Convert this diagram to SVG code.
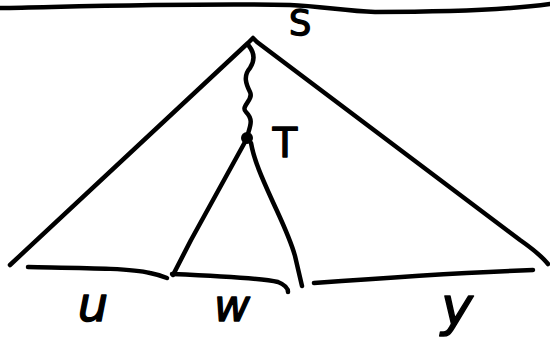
<svg xmlns="http://www.w3.org/2000/svg" width="550" height="337" viewBox="0 0 550 337">
<style>
.s{fill:none;stroke:#000;stroke-width:4.5;stroke-linecap:round;stroke-linejoin:round}
.t{font-family:"DejaVu Sans","Liberation Sans",sans-serif;fill:#000;stroke:#000;stroke-width:1.4;stroke-linejoin:round;text-anchor:middle}
</style>
<rect width="550" height="337" fill="#fff"/>
<g id="top">
<path class="s" d="M0,8 C100,6 200,3 290,5 C320,6 345,11 375,12 C440,12 500,11 550,4"/>
<text class="t" x="300" y="35" font-size="35">S</text>
</g>
<g id="triangle">
<path class="s" d="M10,265 L248,43 L253,38 L257,42 L520,240 Q540,254 548,264"/>
<path class="s" d="M249,46 C256,55 254,62 250,68 C243,76 246,84 250,92 C254,100 240,106 246,112 C254,120 250,126 247,137"/>
<circle cx="247" cy="138" r="6" fill="#000"/>
<text class="t" x="285" y="157" font-size="40">T</text>
</g>
<g id="subtree">
<path class="s" d="M245,142 L191,240 L173,275"/>
<path class="s" d="M251,143 C254,160 262,178 272,200 C282,222 290,238 295,256 L302,286"/>
</g>
<g id="bottom">
<path class="s" d="M28,267 C80,268 130,268 150,273 Q160,275 167,278"/>
<path class="s" d="M172,274 C220,276 260,278 278,282 Q288,286 288,292"/>
<path class="s" d="M314,283 C380,278 450,273 533,270"/>
<text class="t" x="93" y="321" font-size="48" font-style="italic">u</text>
<text class="t" x="232" y="321" font-size="44" font-style="italic">w</text>
<text class="t" x="457" y="325" font-size="54" font-style="italic">y</text>
</g>
</svg>
